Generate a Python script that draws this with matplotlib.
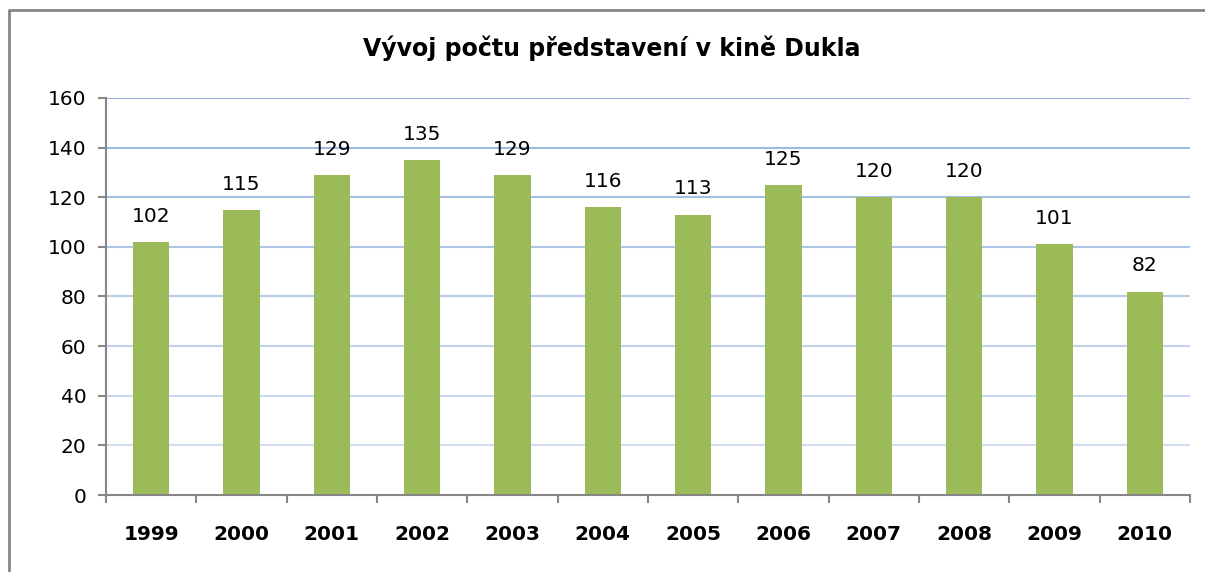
import matplotlib.pyplot as plt
from matplotlib.lines import Line2D

years = ["1999", "2000", "2001", "2002", "2003", "2004",
         "2005", "2006", "2007", "2008", "2009", "2010"]
shows = [102, 115, 129, 135, 129, 116, 113, 125, 120, 120, 101, 82]
yticks = [0, 20, 40, 60, 80, 100, 120, 140, 160]

plt.rcParams['font.family'] = ['DejaVu Sans']

fig = plt.figure(figsize=(12.05, 5.72), dpi=100)
ax = fig.add_axes([0.088, 0.1346, 0.8995, 0.6941])

# outer chart border, only left and top visible (rest is cut off)
bx, by = 9 / 1205, 1 - 10 / 572
fig.lines.append(Line2D([bx, bx, 1.2], [-0.2, by, by], transform=fig.transFigure,
                        color='#868686', linewidth=2))

# gridlines fade toward the bottom
for v in yticks[1:]:
    a = 0.35 + 0.65 * v / 160
    ax.axhline(v, color='#95b3e0', alpha=a, linewidth=1.5, zorder=0)

x = range(len(years))
ax.bar(x, shows, width=0.4, color='#9bbb59', zorder=2)
for xi, v in zip(x, shows):
    ax.text(xi, v + 6.5, str(v), ha='center', va='bottom', fontsize=14.5)

ax.set_xlim(-0.5, len(years) - 0.5)
ax.set_ylim(0, 160)
ax.set_yticks(yticks)
ax.set_yticklabels([str(t) for t in yticks], fontsize=14.5)
ax.set_xticks([i + 0.5 for i in range(-1, len(years))])
ax.set_xticklabels([])
ax.tick_params(axis='x', length=6, color='#868686', width=1.5)
ax.tick_params(axis='y', length=6, color='#868686', width=1.5, pad=8)
for i, yr in enumerate(years):
    ax.text(i, -0.075, yr, transform=ax.get_xaxis_transform(),
            ha='center', va='top', fontsize=14.5, fontweight='bold')

for s in ['top', 'right']:
    ax.spines[s].set_visible(False)
for s in ['left', 'bottom']:
    ax.spines[s].set_color('#868686')
    ax.spines[s].set_linewidth(1.5)

fig.text(0.508, 0.915, "Vývoj počtu představení v kině Dukla",
         ha='center', va='center', fontsize=17, fontweight='bold')

fig.savefig("out.png", dpi=100)
